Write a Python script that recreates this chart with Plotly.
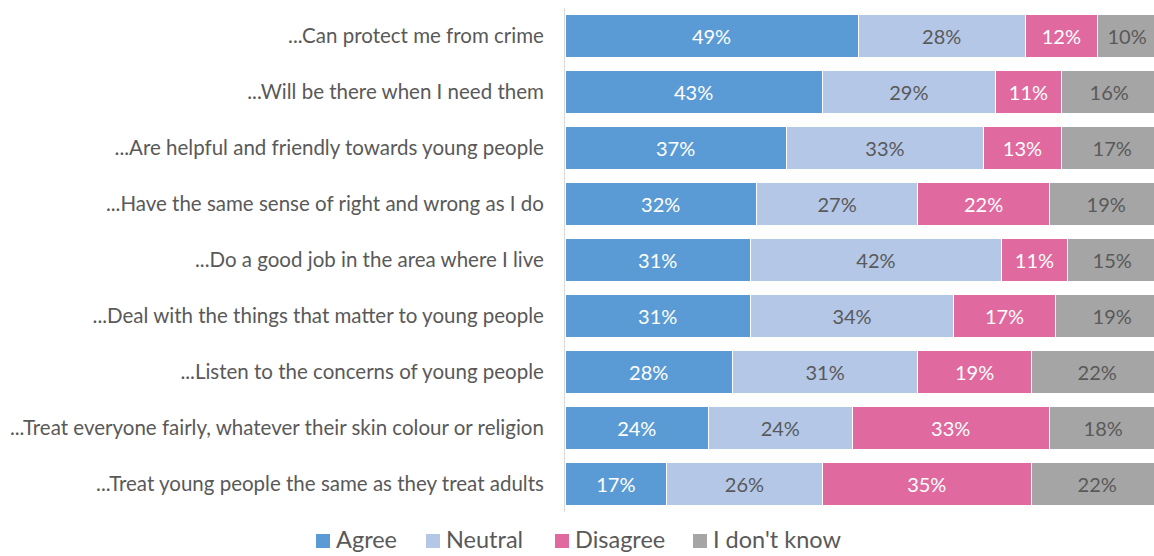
import plotly.graph_objects as go

statements = [
    "...Can protect me from crime",
    "...Will be there when I need them",
    "...Are helpful and friendly towards young people",
    "...Have the same sense of right and wrong as I do",
    "...Do a good job in the area where I live",
    "...Deal with the things that matter to young people",
    "...Listen to the concerns of young people",
    "...Treat everyone fairly, whatever their skin colour or religion",
    "...Treat young people the same as they treat adults",
]

agree = [49, 43, 37, 32, 31, 31, 28, 24, 17]
neutral = [28, 29, 33, 27, 42, 34, 31, 24, 26]
disagree = [12, 11, 13, 22, 11, 17, 19, 33, 35]
dont_know = [10, 16, 17, 19, 15, 19, 22, 18, 22]

series = [
    ("Agree", agree, "#5B9BD5", "white"),
    ("Neutral", neutral, "#B4C7E7", "#595959"),
    ("Disagree", disagree, "#E06AA0", "white"),
    ("I don't know", dont_know, "#A5A5A5", "#595959"),
]

FONT = "Lato, 'Open Sans', sans-serif"
W, H = 1154, 556
L, R, T, B = 565, 0, 8, 44
PW, PH = W - L - R, H - T - B


def px_x(px):
    return (px - L) / PW


def px_y(py):
    return (H - B - py) / PH


fig = go.Figure()
for name, vals, color, txt in series:
    fig.add_trace(go.Bar(
        name=name,
        y=statements,
        x=vals,
        orientation="h",
        marker=dict(color=color, line=dict(color="white", width=1)),
        text=[f"{v}%" for v in vals],
        textposition="inside",
        insidetextanchor="middle",
        textangle=0,
        textfont=dict(family=FONT, size=20, color=txt),
        hoverinfo="skip",
        showlegend=False,
    ))

# legend row: small colour squares followed by the series names
legend_x = [316, 426, 555, 693]
shapes, annotations = [], []
for (name, _, color, _), lx in zip(series, legend_x):
    shapes.append(dict(
        type="rect", xref="paper", yref="paper",
        x0=px_x(lx), x1=px_x(lx + 14), y0=px_y(548), y1=px_y(534),
        fillcolor=color, line=dict(width=0),
    ))
    annotations.append(dict(
        text=name, xref="paper", yref="paper",
        x=px_x(lx + 19), y=px_y(539), xanchor="left", yanchor="middle",
        showarrow=False, borderpad=0,
        font=dict(family=FONT, size=23.5, color="#595959"),
    ))

fig.update_layout(
    barmode="stack",
    bargap=0.23,
    width=W,
    height=H,
    margin=dict(l=L, r=R, t=T, b=B),
    plot_bgcolor="white",
    paper_bgcolor="white",
    font=dict(family=FONT, color="#595959"),
    showlegend=False,
    shapes=shapes,
    annotations=annotations,
    xaxis=dict(
        range=[0, 98.5],
        showgrid=False,
        zeroline=False,
        showticklabels=False,
        showline=False,
    ),
    yaxis=dict(
        autorange="reversed",
        showgrid=False,
        showline=True,
        linecolor="#D9D9D9",
        linewidth=1,
        ticks="",
        ticklabelstandoff=16,
        tickfont=dict(family=FONT, size=20.5, color="#595959"),
    ),
)

fig.write_html("out.html")
